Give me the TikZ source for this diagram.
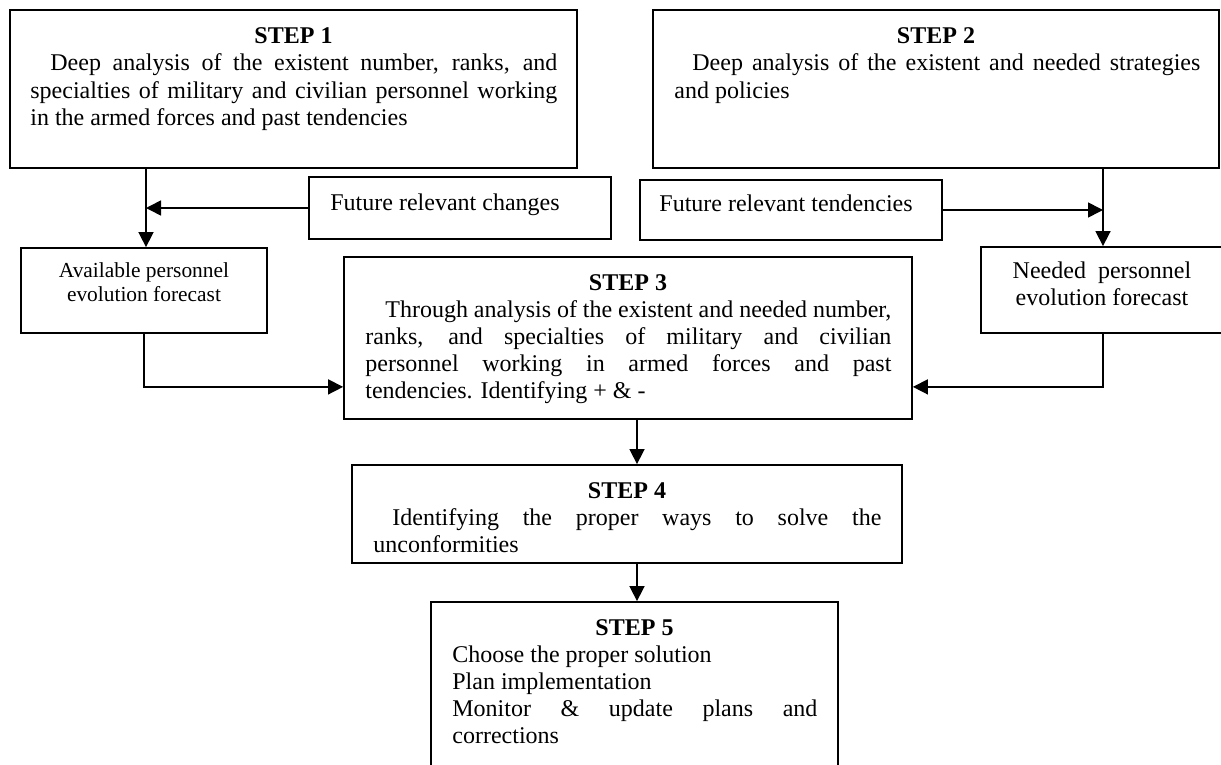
\documentclass[tikz,border=0pt]{standalone}
\usepackage{fontspec}
\setmainfont{Liberation Serif}
\usetikzlibrary{arrows.meta,calc}
\newcommand{\jl}[1]{\makebox[\linewidth][s]{#1}}
\tikzset{
  box/.style={draw, line width=0.9pt, inner sep=0pt, rectangle},
  txt/.style={inner sep=0pt, font=\fontsize{12}{13.6}\selectfont},
  small/.style={inner sep=0pt, font=\fontsize{10.7}{12.5}\selectfont},
  head/.style={inner sep=0pt, anchor=base, font=\fontsize{12}{13.6}\selectfont\bfseries},
  arr/.style={line width=0.8pt, -{Triangle[length=7.5pt,width=7.5pt]}}
}
\begin{document}
\begin{tikzpicture}[x=0.5pt,y=-0.5pt]
\useasboundingbox (0,0) rectangle (1221,765);
\clip (0,0) rectangle (1221,765);
% boxes
\node[box, minimum width=283.5pt, minimum height=79pt] (s1) at (293.5,89) {};
\node[box, minimum width=283pt, minimum height=79pt] (s2) at (936,89) {};
\node[box, minimum width=151pt, minimum height=31pt] (fchg) at (460,208) {};
\node[box, minimum width=151pt, minimum height=30pt] (ften) at (791,210) {};
\node[box, minimum width=123pt, minimum height=42.5pt] (avail) at (144,290.5) {};
\node[box, minimum width=120.5pt, minimum height=43pt] (need) at (1101.5,290) {};
\node[box, minimum width=284pt, minimum height=81pt] (s3) at (628,338) {};
\node[box, minimum width=275pt, minimum height=49pt] (s4) at (627,514) {};
\node[box, minimum width=203.5pt, minimum height=94pt] (s5) at (634.5,696) {};
% texts
\node[head] (h1) at (293.5,44) {STEP 1};
\node[txt, anchor=base west] (t1) at (30,71) {\parbox[t]{263.5pt}{%
\jl{\hspace*{10pt}Deep analysis of the existent number, ranks, and}\\
\jl{specialties of military and civilian personnel working}\\
in the armed forces and past tendencies}};
\node[head] (h2) at (936,44) {STEP 2};
\node[txt, anchor=base west] (t2) at (674,71) {\parbox[t]{263pt}{%
\jl{\hspace*{9pt}Deep analysis of the existent and needed strategies}\\
and policies}};
\node[txt, anchor=base west] (tfc) at (330,210) {Future relevant changes};
\node[txt, anchor=base west] (tft) at (659,212) {Future relevant tendencies};
\node[small, anchor=base] (tav) at (144,277) {\parbox[t]{123pt}{\centering
Available personnel\\evolution forecast}};
\node[txt, anchor=base] (tne) at (1102,278) {\parbox[t]{120pt}{\centering
Needed\ \ personnel\\evolution forecast}};
\node[head] (h3) at (628,290) {STEP 3};
\node[txt, anchor=base west] (t3) at (365,317) {\parbox[t]{263pt}{%
\jl{\hspace*{10pt}Through analysis of the existent and needed number,}\\
\jl{ranks, and specialties of military and civilian}\\
\jl{personnel working in armed forces and past}\\
tendencies. Identifying + \& -}};
\node[head] (h4) at (627,498) {STEP 4};
\node[txt, anchor=base west] (t4) at (373,525) {\parbox[t]{254pt}{%
\jl{\hspace*{9.5pt}Identifying the proper ways to solve the}\\
unconformities}};
\node[head] (h5) at (634.5,635) {STEP 5};
\node[txt, anchor=base west] (t5) at (452,662) {\parbox[t]{182.5pt}{%
Choose the proper solution\\
Plan implementation\\
\jl{Monitor \& update plans and}\\
corrections}};
% connectors
\draw[arr] ([xshift=1pt]avail.north |- s1.south) -- ([xshift=1pt]avail.north);
\draw[arr] (fchg.west) -- ([xshift=1pt]avail.north |- fchg.west);
\draw[arr] ([xshift=0.75pt]need.north |- s2.south) -- ([xshift=0.75pt]need.north);
\draw[arr] (ften.east) -- ([xshift=0.75pt]need.north |- ften.east);
\draw[arr] (avail.south) |- ([yshift=16.5pt]s3.south west);
\draw[arr] ([xshift=0.75pt]need.south) |- ([yshift=16.5pt]s3.south east);
\draw[arr] ([xshift=4.5pt]s3.south) -- ([xshift=4.5pt]s3.south |- s4.north);
\draw[arr] ([xshift=5pt]s4.south) -- ([xshift=5pt]s4.south |- s5.north);
\end{tikzpicture}
\end{document}
